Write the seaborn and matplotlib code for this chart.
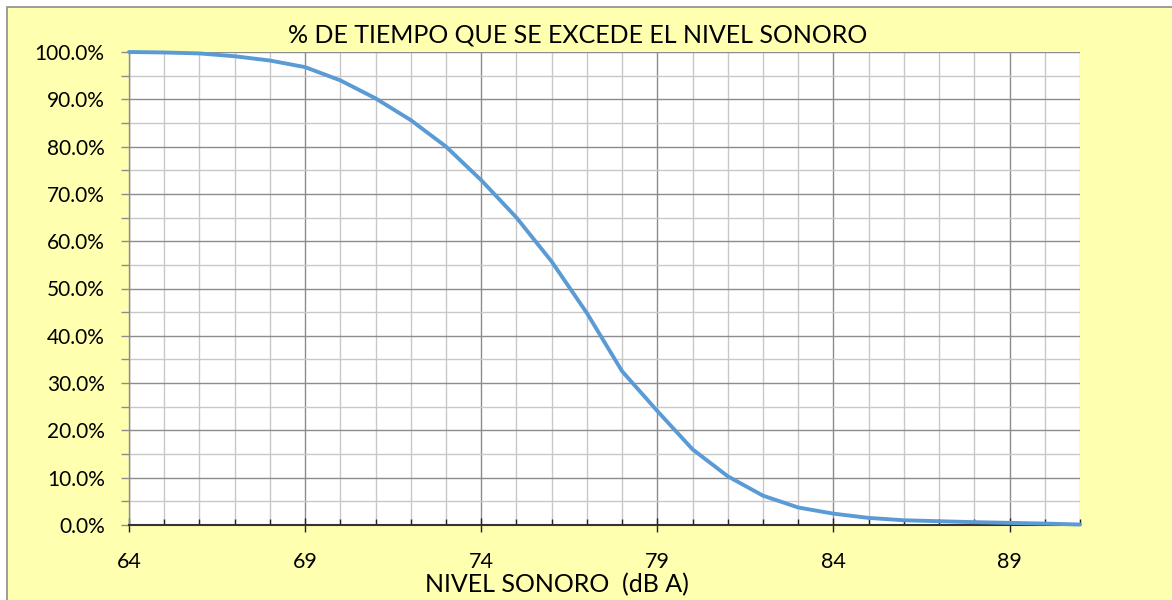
import numpy as np
import pandas as pd
import matplotlib
matplotlib.use('Agg')
import matplotlib.pyplot as plt
from matplotlib.patches import Rectangle
from matplotlib.ticker import MultipleLocator, PercentFormatter
import seaborn as sns

# nivel sonoro (dB A) and % of time that level is exceeded
nivel = [64, 65, 66, 67, 68, 69, 70, 71, 72, 73, 74, 75, 76, 77,
         78, 79, 80, 81, 82, 83, 84, 85, 86, 87, 88, 89, 90, 91]
pct_excede = [100.0, 99.9, 99.7, 99.1, 98.2, 96.8, 94.0, 90.2, 85.6, 80.0,
              72.9, 65.0, 55.7, 44.8, 32.5, 24.1, 16.0, 10.3, 6.2, 3.7,
              2.4, 1.5, 1.0, 0.8, 0.6, 0.45, 0.3, 0.1]

titulo = '% DE TIEMPO QUE SE EXCEDE EL NIVEL SONORO'
etiqueta_x = 'NIVEL SONORO  (dB A)'

df = pd.DataFrame({'nivel': nivel, 'pct': pct_excede})

sns.set_style('white')
plt.rcParams['font.family'] = ['Lato', 'DejaVu Sans']
plt.rcParams['text.color'] = 'black'
plt.rcParams['xtick.color'] = 'black'
plt.rcParams['ytick.color'] = 'black'

fig = plt.figure(figsize=(11.72, 6), dpi=100, facecolor='white')
# yellow chart area with grey border
fig.patches.append(Rectangle((7 / 1172, -0.01), 1.0, 1 - 7 / 600 + 0.01,
                             transform=fig.transFigure, facecolor='#FFFFB0',
                             edgecolor='#8c8c8c', lw=1.2, zorder=-10))

ax = fig.add_axes([129 / 1172, 1 - 525 / 600, (1080 - 129) / 1172, (525 - 52) / 600])
ax.set_facecolor('white')

sns.lineplot(data=df, x='nivel', y='pct', ax=ax, color='#5B9BD5', lw=2.8,
             zorder=5, clip_on=False)

ax.set_xlim(64, 91)
ax.set_ylim(0, 100)
ax.xaxis.set_major_locator(MultipleLocator(5, offset=4))
ax.xaxis.set_minor_locator(MultipleLocator(1))
ax.yaxis.set_major_locator(MultipleLocator(10))
ax.yaxis.set_minor_locator(MultipleLocator(5))
ax.yaxis.set_major_formatter(PercentFormatter(xmax=100, decimals=1))

ax.grid(which='minor', color='#c8c8c8', lw=1.0, zorder=1)
ax.grid(which='major', color='#8c8c8c', lw=1.0, zorder=1)
ax.set_axisbelow(True)

for s in ['top', 'right']:
    ax.spines[s].set_visible(False)
ax.spines['left'].set_color('#8c8c8c')
ax.spines['left'].set_linewidth(1.0)
ax.spines['bottom'].set_color('#333333')
ax.spines['bottom'].set_linewidth(1.5)

ax.tick_params(axis='x', which='major', direction='inout', length=9.5, width=1.0,
               color='#222222', labelsize=15.5, pad=15, bottom=True)
ax.tick_params(axis='x', which='minor', direction='in', length=4.5, width=1.0,
               color='#222222', bottom=True)
ax.tick_params(axis='y', which='both', direction='out', length=5.5, width=1.0,
               color='#8c8c8c', left=True)
ax.tick_params(axis='y', which='major', labelsize=15, pad=12)

ax.set_xlabel('')
ax.set_ylabel('')

fig.text(578 / 1172, 1 - 35 / 600, titulo, ha='center', va='center', fontsize=18)
fig.text(557 / 1172, 1 - 585 / 600, etiqueta_x, ha='center', va='center', fontsize=18)

fig.savefig('out.png', dpi=100, facecolor=fig.get_facecolor())
